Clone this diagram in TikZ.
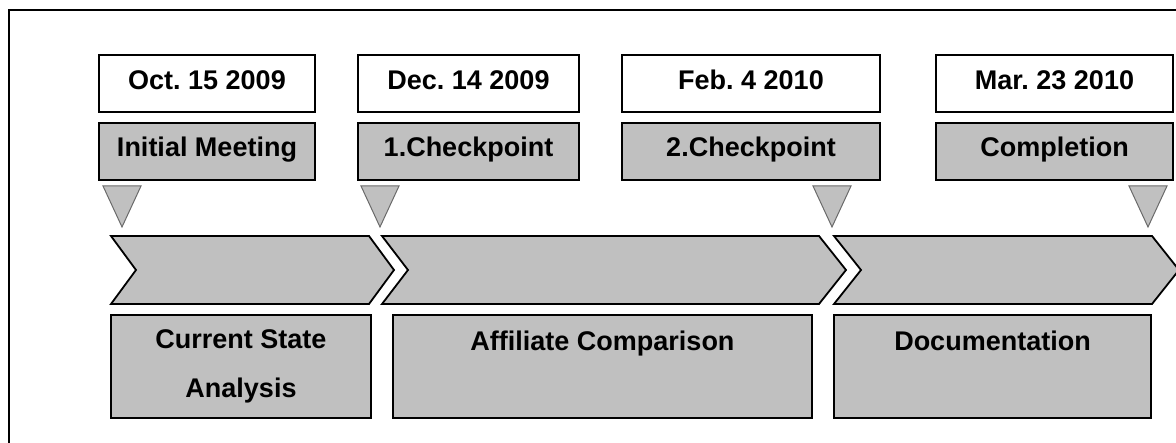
\documentclass[tikz,border=0pt]{standalone}
\usepackage{fontspec}
\setmainfont{Liberation Sans}
\frenchspacing
\definecolor{panelgray}{HTML}{C0C0C0}
\definecolor{markgray}{HTML}{6A6A6A}
\begin{document}
\begin{tikzpicture}[x=1pt,y=-1pt,
  boxfont/.style={font=\fontsize{27}{49}\selectfont\bfseries},
  datebox/.style={boxfont, draw=black, line width=1.6pt, fill=white,
    minimum height=57pt, inner sep=0pt, text height=19pt, text depth=6pt},
  eventbox/.style={boxfont, draw=black, line width=1.6pt, fill=panelgray,
    minimum height=57pt, inner sep=0pt, text height=18pt, text depth=7pt},
  phasebox/.style={draw=black, line width=1.6pt, fill=panelgray,
    minimum height=103pt, inner sep=0pt},
  phasetext/.style={boxfont, align=center, inner sep=0pt},
  chevron/.style={draw=black, line width=1.8pt, fill=panelgray, line join=miter},
  marker/.style={draw=markgray, line width=1pt, fill=panelgray, line join=miter}
]
\useasboundingbox (0,0) rectangle (1176,443);
\clip (0,0) rectangle (1176,443);

% outer frame
\draw[line width=1.8pt] (9,460) -- (9,10) -- (1200,10);

% milestone dates
\node[datebox, minimum width=216pt] (d1) at (207,83.5)   {Oct. 15 2009};
\node[datebox, minimum width=221pt] (d2) at (468.5,83.5) {Dec. 14 2009};
\node[datebox, minimum width=258pt] (d3) at (751,83.5)   {Feb. 4 2010};
\node[datebox, minimum width=237pt] (d4) at (1054.5,83.5) {Mar. 23 2010};

% milestone events
\node[eventbox, minimum width=216pt] (e1) at (207,151.5)   {Initial Meeting};
\node[eventbox, minimum width=221pt] (e2) at (468.5,151.5) {1.Checkpoint};
\node[eventbox, minimum width=258pt] (e3) at (751,151.5)   {2.Checkpoint};
\node[eventbox, minimum width=237pt] (e4) at (1054.5,151.5) {Completion};

% milestone markers
\foreach \c in {122,380,832,1148}
  \draw[marker] (\c-19,186) -- (\c+19,186) -- (\c,227) -- cycle;

% phase arrows
\draw[chevron] (111,236) -- (369,236) -- (394,270) -- (369,304) -- (111,304) -- (136,270) -- cycle;
\draw[chevron] (382,236) -- (819,236) -- (846,270) -- (819,304) -- (382,304) -- (408,270) -- cycle;
\draw[chevron] (834,236) -- (1152,236) -- (1179,270) -- (1152,304) -- (834,304) -- (861,270) -- cycle;

% phases
\node[phasebox, minimum width=260pt] (p1) at (241,366.5) {};
\node[phasebox, minimum width=419pt] (p2) at (602.5,366.5) {};
\node[phasebox, minimum width=317pt] (p3) at (992.5,366.5) {};
\node[phasetext] (t1) at (241,366) {Current State\\Analysis};
\node[phasetext, anchor=base] (t2) at (602.5,351) {Affiliate Comparison};
\node[phasetext, anchor=base] (t3) at (992.5,351) {Documentation};
\end{tikzpicture}
\end{document}
